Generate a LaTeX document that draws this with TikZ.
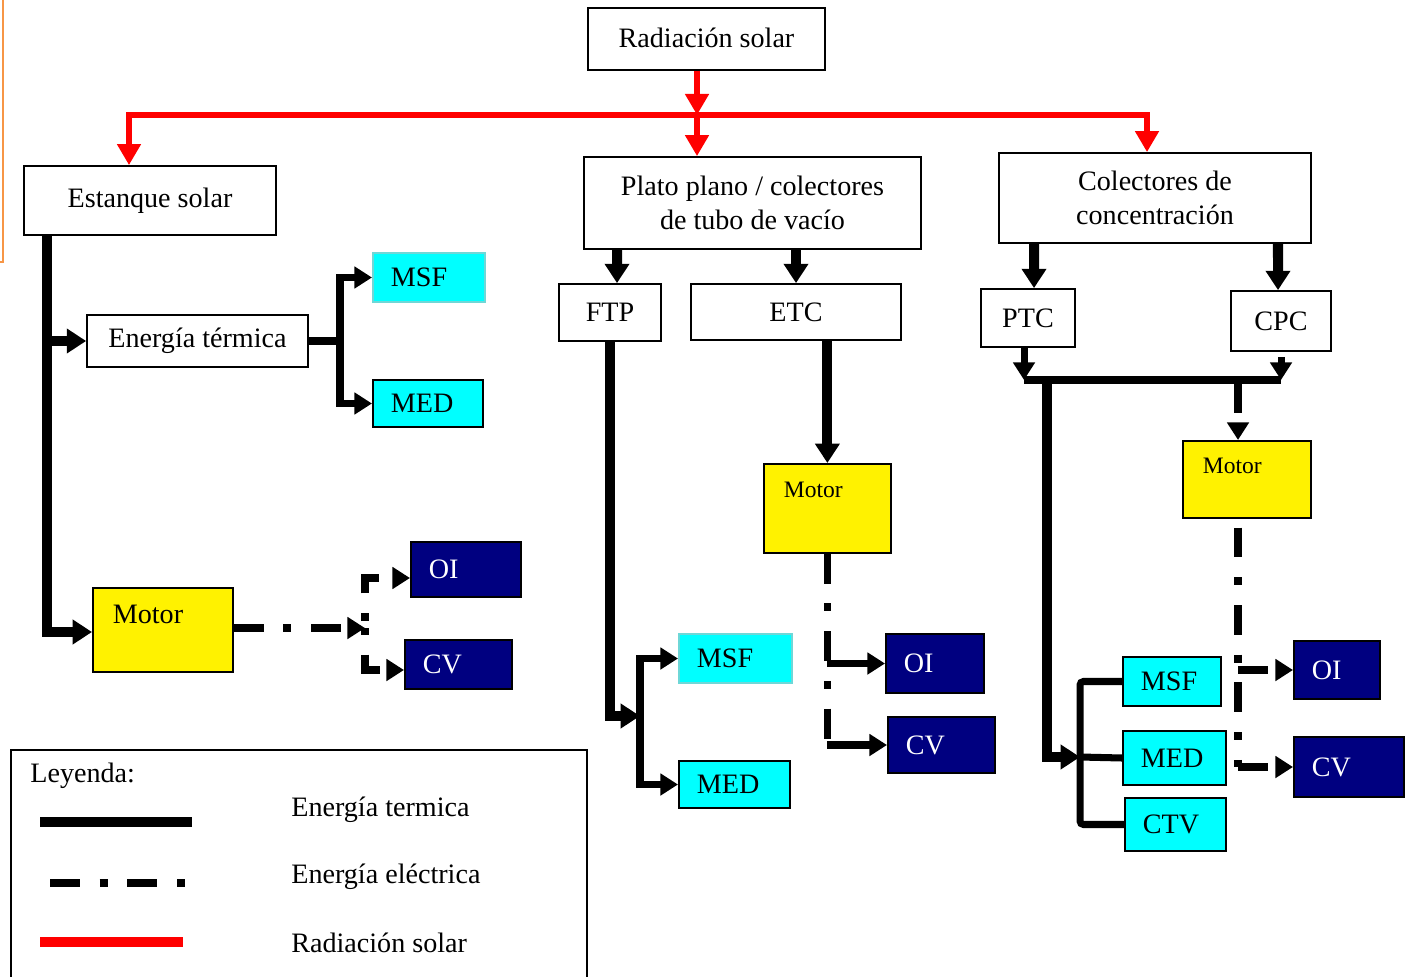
\documentclass[tikz,border=0pt]{standalone}
\usepackage{fontspec}
\setmainfont{Liberation Serif}
\usetikzlibrary{arrows.meta}
\definecolor{navyblue}{RGB}{0,0,128}
\definecolor{aqua}{RGB}{0,255,255}
\definecolor{aquaedge}{RGB}{110,215,215}
\definecolor{lineorange}{RGB}{247,150,70}

\begin{document}
\begin{tikzpicture}[x=0.02cm,y=-0.02cm,font=\fontsize{16}{19.2}\selectfont,
        box/.style={draw,line width=1pt,fill=white,inner sep=0pt},
        aquabox/.style={box,fill=aqua,anchor=west,align=left,inner xsep=0.36cm},
        navybox/.style={box,fill=navyblue,text=white,anchor=west,align=left,inner xsep=0.36cm},
        motorbox/.style={box,fill=yellow,anchor=north west,align=left,inner xsep=0.4cm,inner ysep=0pt},
        sun/.style={red,line width=3.4pt,>={Triangle[length=12pt,width=13pt]}},
        therm/.style={line width=5.7pt,>={Triangle[length=11pt,width=13.5pt]}},
        therm2/.style={line width=4pt,>={Triangle[length=10pt,width=12pt]}},
        elec/.style={line width=4.3pt,dash pattern=on 17pt off 11.3pt on 4.5pt off 11.3pt,>={Triangle[length=10pt,width=12pt]}}]
    \useasboundingbox (0,0) rectangle (1408,976);
    \draw[lineorange,line width=1.2pt] (3,0) -- (3,262) -- (0,262);

    \node[box,minimum width=4.74cm,minimum height=1.24cm] (sol) at (706.5,39) {\raisebox{1.5pt}{Radiación solar}};
    \node[box,minimum width=5.04cm,minimum height=1.38cm] (est) at (150,200.5) {\raisebox{2pt}{Estanque solar}};
    \node[box,align=center,minimum width=6.74cm,minimum height=1.84cm] (plato) at (752.5,203) {Plato plano / colectores\\de tubo de vacío};
    \node[box,align=center,minimum width=6.24cm,minimum height=1.8cm] (conc) at (1155,198) {Colectores de\\concentración};
    \node[box,minimum width=4.42cm,minimum height=1.04cm] (eterm) at (197.5,341) {Energía térmica};
    \node[box,minimum width=2.04cm,minimum height=1.14cm] (ftp) at (610,312.5) {FTP};
    \node[box,minimum width=4.2cm,minimum height=1.12cm] (etc) at (796,312) {ETC};
    \node[box,minimum width=1.88cm,minimum height=1.16cm] (ptc) at (1028,318) {PTC};
    \node[box,minimum width=2cm,minimum height=1.2cm] (cpc) at (1281,321) {CPC};

    \node[aquabox,draw=aquaedge,text width=1.52cm,minimum height=0.98cm] (msfA) at (372,277.5) {MSF};
    \node[aquabox,text width=1.48cm,minimum height=0.94cm] (medA) at (372,403.5) {MED};
    \node[aquabox,draw=aquaedge,text width=1.54cm,minimum height=0.98cm] (msfB) at (678,658.5) {MSF};
    \node[aquabox,text width=1.5cm,minimum height=0.94cm] (medB) at (678,784.5) {MED};
    \node[aquabox,text width=1.24cm,minimum height=0.98cm] (msfC) at (1122,681.5) {MSF};
    \node[aquabox,text width=1.34cm,minimum height=1.08cm] (medC) at (1122,758) {MED};
    \node[aquabox,text width=1.3cm,minimum height=1.06cm] (ctv) at (1124,824.5) {CTV};

    \node[navybox,text width=1.48cm,minimum height=1.1cm] (oiA) at (410,569.5) {OI};
    \node[navybox,text width=1.42cm,minimum height=0.98cm] (cvA) at (404,664.5) {CV};
    \node[navybox,text width=1.24cm,minimum height=1.18cm] (oiB) at (885,663.5) {OI};
    \node[navybox,text width=1.42cm,minimum height=1.12cm] (cvB) at (887,745) {CV};
    \node[navybox,text width=1cm,minimum height=1.16cm] (oiC) at (1293,670) {OI};
    \node[navybox,text width=1.48cm,minimum height=1.2cm] (cvC) at (1293,767) {CV};

    \node[motorbox,text width=2cm,text height=0.72cm,text depth=0.96cm] (motA) at (92,587) {Motor};
    \node[motorbox,font=\fontsize{13.4}{16}\selectfont,text width=1.74cm,text height=0.68cm,text depth=1.1cm] (motB) at (763,463) {Motor};
    \node[motorbox,font=\fontsize{13.4}{16}\selectfont,text width=1.76cm,text height=0.66cm,text depth=0.88cm] (motC) at (1182,440) {Motor};

    \coordinate (rl) at (129,115);
    \coordinate (rm) at (697,115);
    \coordinate (rr) at (1147,115);
    \draw[sun,->] (rm |- sol.south) -- (rm);
    \draw[sun,<->] (rl |- est.north) -- (rl) -- (rr) -- (rr |- conc.north);
    \draw[sun,->] (rm) -- (rm |- plato.north);

    \coordinate (e1) at (47,632);
    \coordinate (b1) at (340,341);
    \coordinate (b3) at (365,628);
    \draw[therm,->] (e1 |- est.south) -- (e1) -- (motA.west |- e1);
    \draw[therm,->] (e1 |- eterm.west) -- (eterm.west);
    \draw[therm2] (eterm.east) -- (b1);
    \draw[therm2,->] (b1) |- (msfA.west);
    \draw[therm2,->] (b1) |- (medA.west);
    \draw[elec,->] (motA.east |- b3) -- (b3);
    \draw[elec,dash phase=24.4pt,->] (b3) |- ([yshift=-0.17cm]oiA.west);
    \draw[elec,dash phase=28.9pt,->] (b3) |- ([yshift=-0.11cm]cvA.west);

    \coordinate (b2) at (640,716);
    \draw[therm,->] ([xshift=-2.71cm]plato.south) -- ([xshift=0.14cm]ftp.north);
    \draw[therm,->] (etc.north |- plato.south) -- (etc.north);
    \draw[therm,->] (ftp.south) |- (b2);
    \draw[therm2,->] (b2) |- (msfB.west);
    \draw[therm2,->] (b2) |- (medB.west);
    \draw[therm,->] (motB.north |- etc.south) -- (motB.north);
    \draw[elec] (motB.south) -- (motB.south |- cvB.west);
    \draw[elec,solid,->] (motB.south |- oiB.west) -- (oiB.west);
    \draw[elec,solid,->] (motB.south |- cvB.west) -- (cvB.west);

    \coordinate (j1) at (1024,380);
    \coordinate (j2) at (1281,380);
    \coordinate (j3) at (1047,384);
    \coordinate (j4) at (1238,383);
    \coordinate (b4) at (1080,757);
    \draw[therm,->] ([xshift=-2.42cm]conc.south) -- ([xshift=0.12cm]ptc.north);
    \draw[therm,->] ([xshift=2.46cm]conc.south) -- ([xshift=-0.06cm]cpc.north);
    \draw[therm2] (j1) -- (j2);
    \draw[therm2,->] ([xshift=-0.08cm]ptc.south) -- ([xshift=-0.08cm]ptc.south |- j1);
    \draw[therm2,->] ([yshift=-0.1cm]cpc.south) -- (j2);
    \draw[therm,->] (j3) |- (b4);
    \draw[therm2,rounded corners=2pt] (msfC.west) -| (b4) |- (ctv.west);
    \draw[therm2] (b4) -- (medC.west);
    \draw[elec,->] (j4) -- (j4 |- motC.north);
    \draw[elec,dash phase=-5pt] (j4 |- motC.south) -- (j4 |- cvC.west);
    \draw[elec,->] (j4 |- oiC.west) -- (oiC.west);
    \draw[elec,->] (j4 |- cvC.west) -- (cvC.west);

    \draw[line width=1pt] (11,990) -- (11,750) -- (587,750) -- (587,990);
    \node[anchor=west,inner sep=0pt] (ley) at (30,776) {Leyenda:};
    \draw[line width=5.7pt] (40,822) -- (192,822);
    \draw[elec] (50,883) -- (188,883);
    \draw[red,line width=5.7pt] (40,942) -- (183,942);
    \node[anchor=west,inner sep=0pt] (lt) at (291,810) {Energía termica};
    \node[anchor=west,inner sep=0pt] (le) at (291,877) {Energía eléctrica};
    \node[anchor=west,inner sep=0pt] (lr) at (291,943) {Radiación solar};
\end{tikzpicture}
\end{document}
